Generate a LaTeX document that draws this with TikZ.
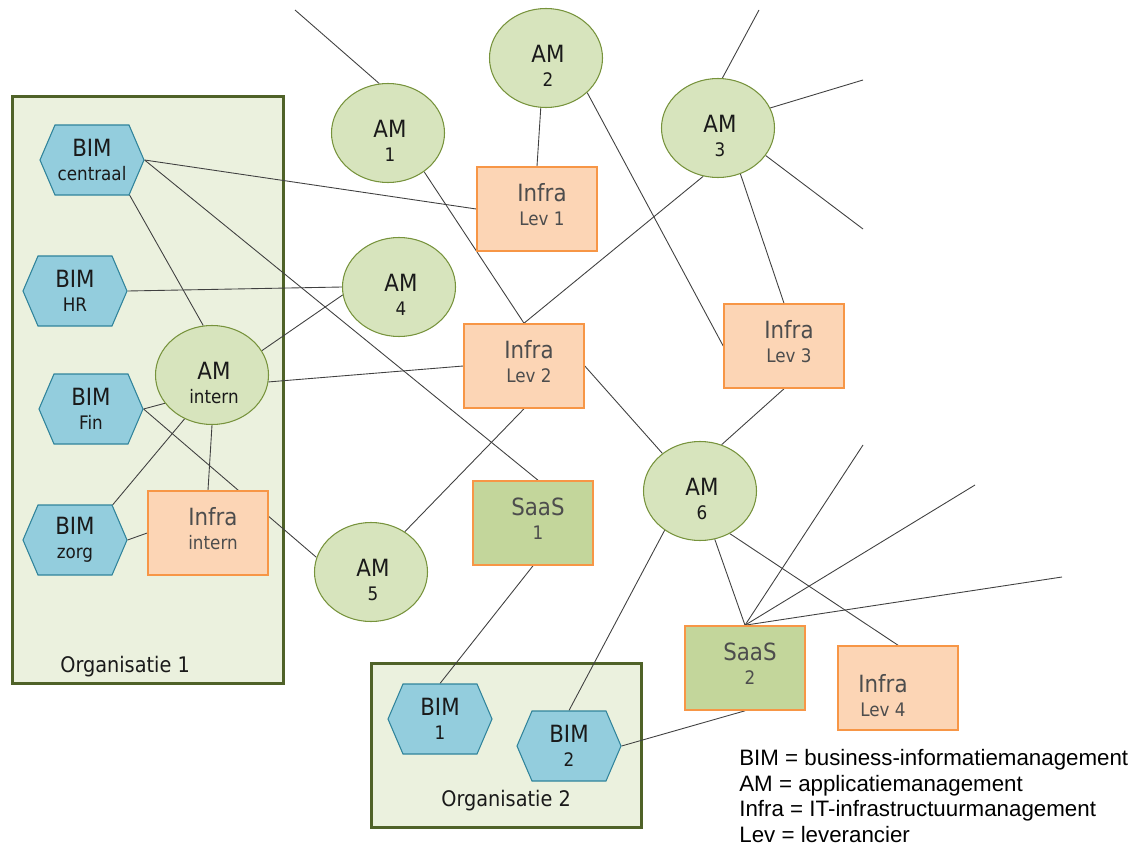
\documentclass[tikz,border=0pt]{standalone}
\usepackage{fontspec}
\setmainfont{DejaVu Sans Condensed}
\newfontfamily\legendfont{Liberation Sans}
\usetikzlibrary{shapes.geometric,shapes.symbols,calc}
\definecolor{orgfill}{HTML}{EBF1DE}
\definecolor{orgline}{HTML}{4F6228}
\definecolor{bimfill}{HTML}{93CDDD}
\definecolor{bimline}{HTML}{31849B}
\definecolor{amfill}{HTML}{D7E4BD}
\definecolor{amline}{HTML}{77933C}
\definecolor{infrafill}{HTML}{FCD5B5}
\definecolor{saasfill}{HTML}{C3D69B}
\definecolor{boxline}{HTML}{F79646}
\definecolor{boxtext}{HTML}{4D4D4D}
\definecolor{linkcol}{HTML}{404040}
\definecolor{darktext}{HTML}{1A1A1A}
\newcommand\subline[1]{{\fontsize{10.6}{13.7}\selectfont #1}}
\pgfdeclarelayer{back}
\pgfdeclarelayer{links}
\pgfsetlayers{back,links,main}
\begin{document}
\begin{tikzpicture}[x=0.2mm,y=-0.2mm,
  bigfont/.style={font=\fontsize{13.5}{13.7}\selectfont},
  org/.style={rectangle, draw=orgline, fill=orgfill, line width=1.9pt, inner sep=0pt},
  orglabel/.style={anchor=base west, inner sep=0pt, text=darktext, font=\fontsize{12.2}{14}\selectfont},
  bim/.style={signal, signal to=east and west, signal pointer angle=133.6,
    draw=bimline, fill=bimfill, line width=0.6pt,
    minimum width=20.8mm, minimum height=14mm, inner sep=0pt,
    align=center, text=darktext, bigfont},
  am/.style={ellipse, draw=amline, fill=amfill, line width=0.6pt,
    minimum width=22.6mm, minimum height=19.8mm, inner sep=0pt},
  amlab/.style={align=center, text=darktext, bigfont, inner sep=0pt, xshift=0.4mm, yshift=-1.6mm},
  box/.style={rectangle, draw=boxline, line width=0.9pt,
    minimum width=24mm, minimum height=16.8mm, inner sep=0pt},
  infra/.style={box, fill=infrafill},
  saas/.style={box, fill=saasfill},
  boxlab/.style={align=center, text=boxtext, bigfont, inner sep=0pt, xshift=1mm, yshift=0.8mm},
  link/.style={draw=linkcol, line width=0.5pt},
  legend/.style={anchor=base west, inner sep=0pt, align=left, text=black,
    font=\legendfont\fontsize{12.7}{14.5}\selectfont}]

\useasboundingbox (0,0) rectangle (1134,847);

% organisation frames
\begin{pgfonlayer}{back}
  \fill[white] (0,0) rectangle (1134,847);
  \node[org, minimum width=54.2mm, minimum height=117.4mm] (org1) at (148,390) {};
  \node[org, minimum width=54mm, minimum height=32.8mm] (org2) at (506.5,745.5) {};
\end{pgfonlayer}
\node[orglabel] (org1lab) at (60,672) {Organisatie 1};
\node[orglabel] (org2lab) at (441,806) {Organisatie 2};

% business information management
\node[bim] (bimc)    at (92,160)  {BIM\\\subline{centraal}};
\node[bim] (bimhr)   at (75,291)  {BIM\\\subline{HR}};
\node[bim] (bimfin)  at (91,409)  {BIM\\\subline{Fin}};
\node[bim] (bimzorg) at (75,540)  {BIM\\\subline{zorg}};
\node[bim] (bim1)    at (440,719) {BIM\\\subline{1}};
\node[bim] (bim2)    at (569,746) {BIM\\\subline{2}};

% application management
\node[am, label={[amlab]center:AM\\\subline{1}}]      (am1)   at (388,133) {};
\node[am, label={[amlab]center:AM\\\subline{2}}]      (am2)   at (546,58)  {};
\node[am, label={[amlab]center:AM\\\subline{3}}]      (am3)   at (718,128) {};
\node[am, label={[amlab]center:AM\\\subline{4}}]      (am4)   at (399,287) {};
\node[am, label={[amlab]center:AM\\\subline{intern}}] (amint) at (212,375) {};
\node[am, label={[amlab]center:AM\\\subline{5}}]      (am5)   at (371,572) {};
\node[am, label={[amlab]center:AM\\\subline{6}}]      (am6)   at (700,491) {};

% infrastructure and SaaS suppliers
\node[infra, label={[boxlab]center:Infra\\\subline{Lev 1}}]  (lev1)   at (537,209) {};
\node[infra, label={[boxlab]center:Infra\\\subline{Lev 2}}]  (lev2)   at (524,366) {};
\node[infra, label={[boxlab]center:Infra\\\subline{Lev 3}}]  (lev3)   at (784,346) {};
\node[infra, label={[boxlab]center:Infra\\\subline{intern}}] (infint) at (208,533) {};
\node[infra, label={[boxlab, xshift=-4mm, yshift=-2.4mm]center:Infra\\\subline{Lev 4}}] (lev4) at (898,688) {};
\node[saas, label={[boxlab]center:SaaS\\\subline{1}}] (saas1) at (533,523) {};
\node[saas, label={[boxlab]center:SaaS\\\subline{2}}] (saas2) at (745,668) {};

% legend (anchored on the baseline of its last line)
\node[legend] (legend) at (739,842) {BIM = business-informatiemanagement\\AM = applicatiemanagement\\Infra = IT-infrastructuurmanagement\\Lev = leverancier};

% open ends of connections leaving the picture
\coordinate (f1) at (295,10);
\coordinate (f2) at (759,10);
\coordinate (f3) at (863,80);
\coordinate (f4) at (863,229);
\coordinate (f5) at (863,445);
\coordinate (f6) at (975,485);
\coordinate (f7) at (1062,577);

% connections
\begin{pgfonlayer}{links}
  \draw[link] (f1) -- (am1.100);
  \draw[link] (am2.264) -- (lev1.north);
  \draw[link] (am2.320) -- (lev3.west);
  \draw[link] (am1.313) -- (lev2.north);
  \draw[link] (bimc.east) -- (lev1.west);
  \draw[link] (bimc.east) -- ($(saas1.north)+(5,0)$);
  \draw[link] (bimc.317) -- (amint.100);
  \draw[link] (bimhr.east) -- (am4.west);
  \draw[link] (amint.26) -- (am4.188);
  \draw[link] (amint.353) -- (lev2.west);
  \draw[link] (bimfin.east) -- (amint.211);
  \draw[link] (bimfin.east) -- (am5.165);
  \draw[link] (amint.238) -- (bimzorg.43);
  \draw[link] (amint.270) -- (infint.north);
  \draw[link] (bimzorg.east) -- (infint.west);
  \draw[link] (am5.50) -- (lev2.south);
  \draw[link] (am3.253) -- (lev2.north);
  \draw[link] (am3.85) -- (f2);
  \draw[link] (am3.21) -- (f3);
  \draw[link] (am3.330) -- (f4);
  \draw[link] (am3.296) -- (lev3.north);
  \draw[link] (lev3.south) -- (am6.65);
  \draw[link] (lev2.east) -- (am6.135);
  \draw[link] (am6.228) -- (bim2.north);
  \draw[link] (am6.287) -- (saas2.north);
  \draw[link] (am6.305) -- (lev4.north);
  \draw[link] (saas2.north) -- (f5);
  \draw[link] (saas2.north) -- (f6);
  \draw[link] (saas2.north) -- (f7);
  \draw[link] (saas2.south) -- (bim2.east);
  \draw[link] (saas1.south) -- (bim1.north);
\end{pgfonlayer}
\end{tikzpicture}
\end{document}
